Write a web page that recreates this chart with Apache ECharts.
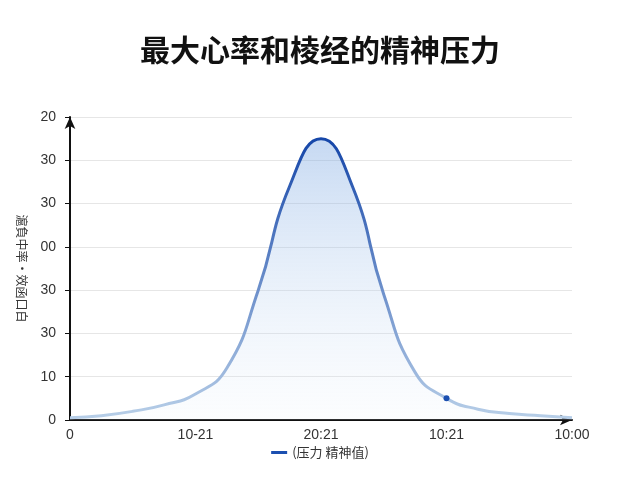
<!DOCTYPE html><html><head><meta charset="utf-8"><script src="https://cdn.jsdelivr.net/npm/echarts@6/dist/echarts.min.js"></script></head><body style="margin:0"><div id="c" style="width:640px;height:480px"></div><script>
const xTickLabels=['0','10-21','20:21','10:21','10:00'];
const yTickLabels=['0','10','30','30','00','30','30','20'];
const xs=[0,0.25,0.5,0.75,1,1.25,1.5,1.75,2,2.25,2.5,2.75,3,3.25,3.5,3.75,4];
const ys=[0.5,1,2,3.5,6,12,30,54,65,54,29,11,5,2.5,1.5,1,0.5];
const seriesName='(压力 精神值)';
const c=echarts.init(document.getElementById('c'));
c.setOption({
title:{text:'最大心率和棱经的精神压力',left:'center',top:30,textStyle:{fontSize:30,fontWeight:'bold',color:'#111',fontFamily:'Noto Sans CJK SC'}},
legend:{bottom:16,data:[seriesName],icon:'rect',itemWidth:16,itemHeight:3,textStyle:{fontSize:13,color:'#333',fontFamily:'Noto Sans CJK SC'}},
grid:{left:70,right:68,top:117,bottom:60},
xAxis:{type:'value',min:0,max:4,interval:1,axisLine:{lineStyle:{color:'#111',width:2},symbol:['none','arrow'],symbolSize:[8,12]},axisTick:{show:false},splitLine:{show:false},axisLabel:{fontSize:14,color:'#333',formatter:v=>xTickLabels[Math.round(v)]}},
yAxis:{type:'value',min:0,max:70,interval:10,name:'滬負中率·效函口白',nameLocation:'middle',nameGap:42,nameRotate:-90,nameTextStyle:{fontSize:12,color:'#333',fontFamily:'Noto Sans CJK SC'},axisLine:{show:true,lineStyle:{color:'#111',width:2},symbol:['none','arrow'],symbolSize:[8,12]},splitLine:{lineStyle:{color:'#e6e6e6'}},axisLabel:{fontSize:14,color:'#333',margin:14,formatter:v=>yTickLabels[Math.round(v/10)]}},
series:[{name:seriesName,type:'line',smooth:0.5,symbol:'none',data:xs.map((x,i)=>[x,ys[i]]),
lineStyle:{width:3,color:new echarts.graphic.LinearGradient(0,0,0,1,[{offset:0,color:'#1445a8'},{offset:1,color:'#b8cfe8'}])},itemStyle:{color:'#1b4fb0'},
areaStyle:{color:new echarts.graphic.LinearGradient(0,0,0,1,[{offset:0,color:'rgba(120,165,225,0.6)'},{offset:1,color:'rgba(230,240,250,0.2)'}])},
markPoint:{symbol:'circle',symbolSize:6,label:{show:false},itemStyle:{color:'#1b4fb0'},data:[{coord:[3,5]}]}}]
});
</script></body></html>
